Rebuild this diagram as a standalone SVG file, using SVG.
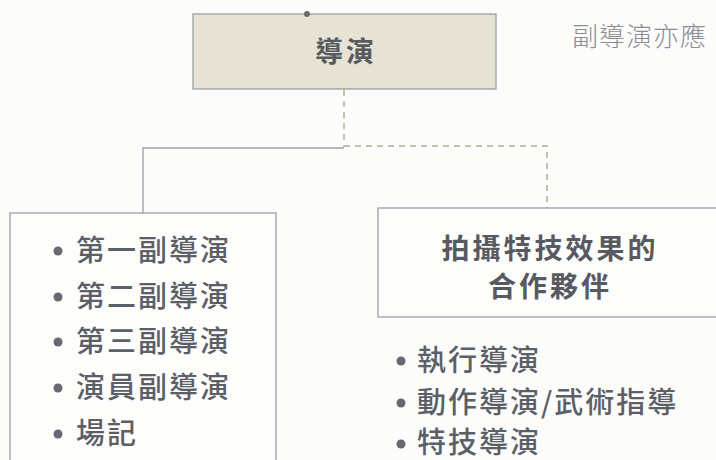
<svg xmlns="http://www.w3.org/2000/svg" width="716" height="460" viewBox="0 0 716 460">
<style>
.box{fill:#fdfdfc;stroke:#9c9ea2;stroke-width:1.3}
.title{font-family:"Noto Sans CJK TC","Noto Sans CJK SC",sans-serif;font-weight:bold;fill:#575b61;font-size:28px;letter-spacing:3px}
.item{font-family:"Noto Sans CJK TC","Noto Sans CJK SC",sans-serif;font-weight:500;fill:#5b6068;font-size:29px;letter-spacing:2px}
.bul{fill:#666a70}
.solid{fill:none;stroke:#9c9ea2;stroke-width:1.3}
.dash{fill:none;stroke:#b3ad94;stroke-width:1.5;stroke-dasharray:6 5}
</style>
<rect width="716" height="460" fill="#fcfcfb"/>
<text x="572" y="46" font-family="'Noto Sans CJK TC','Noto Sans CJK SC',sans-serif" font-weight="300" font-size="26" letter-spacing="1" fill="#8a8c90">副導演亦應</text>
<g id="connectors">
<path class="dash" d="M344 90 V147"/>
<path class="solid" d="M344 148 H143 V213"/>
<path class="dash" d="M344 146 H547 V208"/>
</g>
<g id="director">
<rect x="193" y="14" width="303" height="75" fill="#e7e3d4" stroke="#9c9ea2" stroke-width="1.3"/>
<circle cx="307" cy="14" r="3" fill="#6a6c70"/>
<text class="title" x="346" y="62" text-anchor="middle">導演</text>
</g>
<g id="assistants">
<rect class="box" x="10" y="213" width="266" height="260"/>
<circle class="bul" cx="58" cy="251" r="4.5"/>
<text class="item" x="76" y="261">第一副導演</text>
<circle class="bul" cx="58" cy="297" r="4.5"/>
<text class="item" x="76" y="307">第二副導演</text>
<circle class="bul" cx="58" cy="342" r="4.5"/>
<text class="item" x="76" y="352">第三副導演</text>
<circle class="bul" cx="58" cy="388" r="4.5"/>
<text class="item" x="76" y="398">演員副導演</text>
<circle class="bul" cx="58" cy="434" r="4.5"/>
<text class="item" x="76" y="444">場記</text>
</g>
<g id="partners">
<rect class="box" x="378" y="208" width="350" height="109"/>
<text class="title" x="550" y="259" text-anchor="middle">拍攝特技效果的</text>
<text class="title" x="550" y="297" text-anchor="middle">合作夥伴</text>
<circle class="bul" cx="401" cy="361" r="4.5"/>
<text class="item" x="417" y="371">執行導演</text>
<circle class="bul" cx="401" cy="403" r="4.5"/>
<text class="item" x="417" y="413">動作導演/武術指導</text>
<circle class="bul" cx="401" cy="444" r="4.5"/>
<text class="item" x="417" y="453">特技導演</text>
</g>
</svg>
